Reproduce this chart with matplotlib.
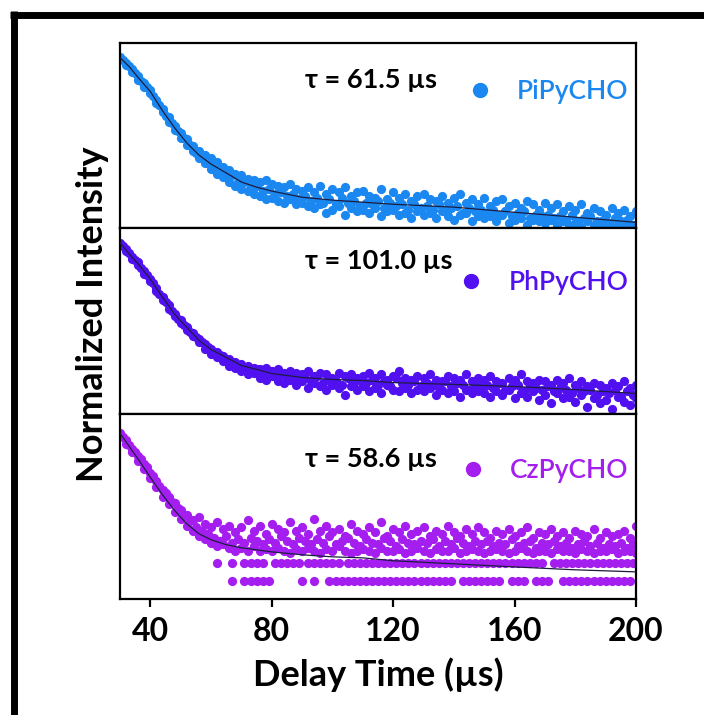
import numpy as np
import matplotlib as mpl
mpl.use('Agg')
import matplotlib.pyplot as plt
from matplotlib.lines import Line2D

plt.rcParams['font.family'] = ['Lato', 'DejaVu Sans']

# sample times (us)
x_even = np.arange(30, 201, 2)
x_odd = np.arange(31, 200, 2)
x_fit = [30, 33, 36, 40, 44, 48, 52, 56, 60, 65, 70, 75, 80, 90, 100, 110, 120, 140, 160, 180, 200]

# PiPyCHO
pi_a = [1.00, .97, .93, .89, .85, .81, .75, .70, .65, .60,
        .56, .52, .48, .45, .43, .41, .39, .36, .34, .32,
        .31, .29, .28, .27, .28, .26, .25, .24, .26, .23,
        .22, .24, .21, .25, .20, .23, .21, .24, .19, .21,
        .22, .19, .18, .23, .17, .21, .18, .20, .16, .19,
        .20, .17, .16, .19, .15, .18, .20, .15, .17, .14,
        .18, .13, .16, .17, .13, .15, .12, .16, .14, .11,
        .15, .12, .14, .10, .13, .11, .14, .09, .12, .10,
        .08, .12, .09, .11, .07, .10]
pi_b = [.99, .955, .915, .87, .83, .79, .735, .68, .625, .575,
        .53, .49, .45, .41, .38, .35, .32, .30, .27, .25,
        .23, .22, .20, .19, .17, .18, .16, .15, .17, .14,
        .15, .13, .12, .14, .09, .11, .13, .08, .12, .10,
        .11, .09, .12, .07, .10, .11, .08, .09, .06, .10,
        .08, .09, .06, .10, .07, .05, .08, .09, .04, .07,
        .06, .07, .04, .08, .03, .05, .06, .02, .05, .04,
        .03, .05, .02, .04, .02, .03, .01, .04, .02, .01,
        .03, .01, .02, .01, .00, .02]
pi_c = [.985, .95, .91, .86, .825, .775, .72, .66, .615, .57,
        .53, .49, .44, .43, .38, .37, .35, .32, .31, .27,
        .27, .24, .25, .22, .23, .20, .21, .19, .20, .17,
        .19, .16, .18, .15, .17, .14, .18, .15, .16, .13,
        .15, .14, .16, .12, .15, .13, .14, .11, .14, .12,
        .13, .11, .14, .10, .12, .13, .09, .12, .10, .11,
        .09, .11, .08, .10, .07, .09, .10, .06, .08, .07,
        .08, .06, .07, .05, .08, .04, .06, .07, .04, .05,
        .03, .06, .04, .05, .02]
pi_fit = [1.00, .947, .882, .80, .688, .588, .50, .429, .376, .324, .271,
          .241, .218, .182, .165, .153, .141, .124, .094, .065, .035]

# PhPyCHO
ph_a = [1.00, .965, .92, .885, .835, .79, .735, .685, .635, .585,
        .55, .51, .475, .44, .41, .38, .36, .34, .32, .30,
        .29, .28, .27, .26, .27, .25, .26, .24, .25, .24,
        .23, .25, .22, .24, .23, .21, .24, .22, .23, .21,
        .22, .24, .21, .23, .20, .22, .25, .21, .20, .22,
        .21, .23, .20, .19, .22, .21, .20, .23, .19, .21,
        .20, .22, .19, .18, .21, .20, .23, .19, .18, .20,
        .19, .17, .20, .18, .21, .17, .19, .16, .18, .17,
        .15, .18, .16, .19, .15, .17]
ph_b = [.99, .955, .905, .87, .82, .775, .72, .665, .615, .57,
        .53, .49, .455, .42, .38, .35, .33, .31, .28, .27,
        .25, .23, .24, .21, .20, .22, .19, .18, .20, .17,
        .19, .15, .18, .16, .14, .17, .15, .11, .16, .14,
        .16, .13, .15, .12, .17, .14, .13, .15, .12, .14,
        .13, .15, .11, .14, .12, .13, .10, .14, .12, .13,
        .12, .10, .13, .11, .14, .09, .12, .10, .13, .08,
        .11, .06, .12, .09, .10, .07, .11, .04, .09, .06,
        .08, .03, .10, .07, .05, .09]
ph_c = [.98, .94, .90, .855, .81, .765, .70, .655, .60, .555,
        .52, .48, .45, .42, .39, .36, .345, .32, .30, .285,
        .27, .25, .26, .23, .25, .22, .23, .21, .22, .20,
        .21, .19, .22, .18, .20, .19, .17, .21, .18, .20,
        .18, .20, .17, .19, .16, .21, .18, .17, .19, .16,
        .18, .17, .15, .19, .16, .18, .17, .14, .17, .16,
        .17, .15, .18, .14, .16, .17, .13, .16, .15, .14,
        .16, .13, .15, .14, .12, .15, .13, .14, .11, .13,
        .12, .14, .10, .13, .11]
ph_fit = [1.00, .935, .876, .788, .682, .582, .506, .43, .376, .329, .282,
          .259, .235, .212, .20, .194, .182, .171, .159, .141, .118]

# CzPyCHO
cz_a = [.97, .93, .88, .84, .79, .74, .69, .64, .60, .56,
        .52, .49, .46, .48, .44, .42, .45, .41, .43, .39,
        .42, .46, .40, .43, .38, .44, .41, .39, .45, .40,
        .42, .38, .47, .40, .43, .39, .41, .37, .44, .40,
        .38, .42, .39, .45, .37, .41, .39, .43, .38, .40,
        .42, .37, .40, .38, .43, .39, .37, .41, .38, .42,
        .39, .36, .40, .38, .41, .37, .39, .42, .36, .39,
        .38, .41, .37, .39, .36, .40, .38, .37, .41, .36,
        .39, .37, .38, .40, .36, .43]
cz_b = [.96, .91, .86, .81, .76, .71, .655, .60, .555, .51,
        .47, .43, .40, .37, .35, .33, .31, .32, .30, .28,
        .30, .28, .31, .28, .29, .28, .30, .28, .27, .29,
        .28, .30, .28, .27, .29, .28, .31, .28, .27, .28,
        .29, .28, .27, .30, .28, .28, .29, .27, .28, .30,
        .28, .27, .29, .28, .28, .30, .27, .28, .29, .28,
        .27, .28, .29, .28, .27, .28, .30, .28, .27, .28,
        .28, .27, .29, .28, .28, .27, .29, .28, .27, .28,
        .28, .29, .27, .28, .28, .27]
cz_c = [.95, .90, .86, .82, .77, .72, .66, .62, .57, .53,
        .49, .46, .42, .40, .38, .36, .34, .37, .33, .35,
        .33, .36, .34, .32, .35, .33, .37, .34, .32, .36,
        .34, .32, .35, .33, .37, .32, .34, .36, .33, .31,
        .35, .33, .32, .36, .34, .31, .35, .33, .32, .34,
        .33, .35, .31, .34, .32, .36, .33, .31, .34, .32,
        .34, .31, .33, .32, .35, .31, .33, .34, .30, .33,
        .32, .34, .31, .33, .30, .32, .34, .31, .33, .30,
        .32, .31, .33, .30, .32]
# quantised low rows of the CzPyCHO trace
cz_row1_x = [62, 67, 71, 73, 75, 77, 81, 83, 85, 87, 89, 92, 94, 96, 98, 100, 102,
             105, 107, 109, 111, 113, 115, 117, 119, 121, 123, 125, 127, 129, 131,
             133, 135, 137, 139, 141, 143, 145, 147, 149, 151, 153, 155, 157, 159,
             161, 163, 165, 167, 169, 173, 175, 177, 179, 181, 183, 185, 187, 189,
             191, 193, 195, 197, 199]
cz_row1 = 0.212
cz_row2_x = [67, 71, 73, 75, 77, 79, 90, 94, 99, 101, 103, 105, 107, 109, 111, 113,
             115, 117, 119, 121, 123, 125, 127, 129, 131, 133, 135, 137, 139, 143,
             145, 147, 149, 151, 153, 155, 159, 161, 163, 167, 169, 171, 176, 178,
             180, 182, 184, 186, 188, 190, 192, 194, 196, 198]
cz_row2 = 0.106
cz_fit = [.97, .894, .818, .712, .61, .518, .44, .382, .347, .318, .30,
          .288, .276, .259, .247, .241, .224, .206, .188, .171, .159]

names = ['PiPyCHO', 'PhPyCHO', 'CzPyCHO']
taus = ['τ = 61.5 µs', 'τ = 101.0 µs', 'τ = 58.6 µs']
colors = ['#1a88f0', '#5010f0', '#a51ef0']

fig, axs = plt.subplots(3, 1, sharex=True, figsize=(7.04, 7.15), dpi=100,
                        gridspec_kw={'hspace': 0})
fig.subplots_adjust(left=0.1705, right=0.9034, top=0.9399, bottom=0.1622)

series = [(pi_a, pi_b, pi_c, pi_fit), (ph_a, ph_b, ph_c, ph_fit), (cz_a, cz_b, cz_c, cz_fit)]
leg_y = [0.739, 0.707, 0.694]
tau_y = [0.80, 0.826, 0.758]
ms = 44

for i, ax in enumerate(axs):
    a, b, c, f = series[i]
    col = colors[i]
    ax.scatter(x_even, a, s=ms, color=col, lw=0, zorder=2)
    ax.scatter(x_even, b, s=ms, color=col, lw=0, zorder=2)
    ax.scatter(x_odd, c, s=ms, color=col, lw=0, zorder=2)
    if i == 2:
        ax.scatter(cz_row1_x, [cz_row1] * len(cz_row1_x), s=ms, color=col, lw=0, zorder=2)
        ax.scatter(cz_row2_x, [cz_row2] * len(cz_row2_x), s=ms, color=col, lw=0, zorder=2)
    ax.plot(x_fit, f, color='#1c1c40', lw=0.9, zorder=3)

    ax.set_xlim(30, 200)
    ax.set_ylim(0, 1.085)
    ax.set_yticks([])
    for sp in ax.spines.values():
        sp.set_linewidth(1.6)

    h = Line2D([], [], marker='o', ls='', color=col, ms=10)
    ax.legend([h], [names[i]], loc='center right', bbox_to_anchor=(0.985, leg_y[i]),
              frameon=False, borderpad=0, borderaxespad=0, handlelength=1.0,
              handletextpad=0.9, labelcolor=col,
              prop={'size': 19, 'weight': 'semibold', 'family': ['Lato', 'DejaVu Sans']})
    ax.text(0.359, tau_y[i], taus[i], transform=ax.transAxes, fontsize=19.5,
            fontweight='bold', va='center', ha='left')

for ax in axs[:2]:
    ax.tick_params(axis='x', bottom=False, labelbottom=False)

axs[2].set_xticks([40, 80, 120, 160, 200])
axs[2].tick_params(axis='x', direction='out', length=6, width=1.6, pad=7, labelsize=23)
for lab in axs[2].get_xticklabels():
    lab.set_fontweight('bold')
axs[2].set_xlabel('Delay Time (µs)', fontsize=26, fontweight='bold', labelpad=8)

fig.text(0.131, 0.56, 'Normalized Intensity', rotation=90, ha='center', va='center',
         fontsize=26, fontweight='bold')

# black border of the original figure frame
fig.add_artist(Line2D([10 / 704, 1], [1 - 14.5 / 715, 1 - 14.5 / 715], transform=fig.transFigure,
                      color='black', lw=5, solid_capstyle='butt'))
fig.add_artist(Line2D([13.5 / 704, 13.5 / 704], [0, 1 - 11 / 715], transform=fig.transFigure,
                      color='black', lw=5, solid_capstyle='butt'))

plt.savefig('out.png', dpi=100)
plt.close('all')
